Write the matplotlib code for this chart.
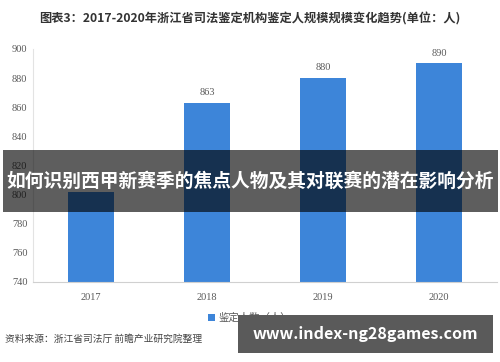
import matplotlib
matplotlib.use("Agg")
import matplotlib.pyplot as plt
from matplotlib.patches import Rectangle

plt.rcParams['font.family'] = ['Noto Sans CJK SC', 'DejaVu Sans']

years = ['2017', '2018', '2019', '2020']
counts = [802, 863, 880, 890]
yticks = [740, 760, 780, 800, 820, 840, 860, 880, 900]

bar_color = '#3d85d9'
grey = '#595959'
serif = ['Liberation Serif', 'DejaVu Serif']

fig = plt.figure(figsize=(5, 3.62), dpi=100)
ax = fig.add_axes([0.066, 0.221, 0.928, 0.644])

x = range(len(years))
bars = ax.bar(x, counts, width=0.4, color=bar_color, zorder=2)
ax.set_xlim(-0.5, len(years) - 0.5)
ax.set_ylim(740, 900)
ax.set_yticks(yticks)
ax.set_xticks(list(x))
ax.set_xticklabels(years)

for lab in ax.get_xticklabels() + ax.get_yticklabels():
    lab.set_family(serif)
    lab.set_fontsize(7.5)
    lab.set_color(grey)

ax.tick_params(length=0, pad=8)
ax.tick_params(axis='y', pad=4)
for s in ['top', 'right']:
    ax.spines[s].set_visible(False)
ax.spines['left'].set_color('#e3e3e3')
ax.spines['bottom'].set_color('#d0d0d0')

# value labels (the 2017 one sits under the banner in the original, so skip it)
for i, v in enumerate(counts):
    if i == 0:
        continue
    ax.text(i, v + 4, str(v), ha='center', va='bottom', fontsize=7.5,
            color=grey, family=serif)

# title
fig.text(0.5, 0.947, '图表3：2017-2020年浙江省司法鉴定机构鉴定人规模规模变化趋势(单位：人)',
         ha='center', va='center', fontsize=8.8, fontweight='bold', color='#333333')

# legend
leg = ax.legend([bars[0]], ['鉴定人数（人）'], loc='center', frameon=False,
                bbox_to_anchor=(0.5, 0.121), bbox_transform=fig.transFigure,
                fontsize=7.5, handlelength=0.6, handleheight=0.6, handletextpad=0.4)
for t in leg.get_texts():
    t.set_color(grey)

# source
fig.text(0.01, 0.063, '资料来源：浙江省司法厅 前瞻产业研究院整理', ha='left', va='center',
         fontsize=7, color='#444444')

# overlay banner
fig.patches.append(Rectangle((0.006, 0.414), 0.99, 0.171, transform=fig.transFigure,
                             facecolor='black', alpha=0.63, zorder=5))
fig.text(0.5, 0.5, '如何识别西甲新赛季的焦点人物及其对联赛的潜在影响分析', ha='center',
         va='center', fontsize=13.5, fontweight='bold', color='white', zorder=6)

# bottom site box
fig.patches.append(Rectangle((0.476, 0.025), 0.51, 0.105, transform=fig.transFigure,
                             facecolor='#5a5a5a', zorder=5))
fig.text(0.73, 0.077, 'www.index-ng28games.com', ha='center', va='center',
         fontsize=11.5, fontweight='bold', color='white', zorder=6)

fig.savefig('out.png', dpi=100)
